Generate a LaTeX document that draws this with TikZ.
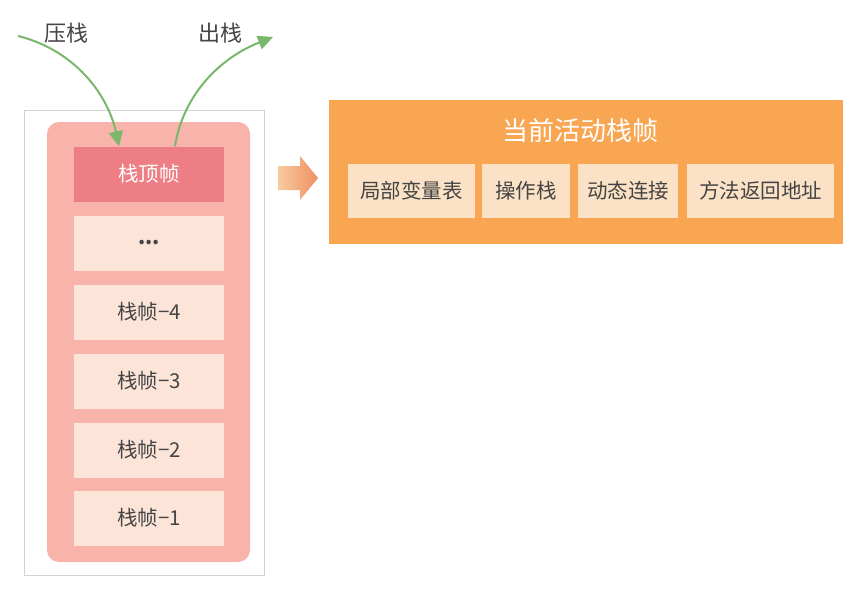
\documentclass[tikz,border=0pt]{standalone}
\usepackage{fontspec}
\setmainfont{Noto Sans CJK SC}
\usetikzlibrary{arrows.meta}
\definecolor{pinkout}{HTML}{F8B3AA}
\definecolor{pinktop}{HTML}{EE7E85}
\definecolor{framebg}{HTML}{FCE4D8}
\definecolor{orangebg}{HTML}{F9A652}
\definecolor{orangebox}{HTML}{FBE2C6}
\definecolor{txt}{HTML}{444444}
\definecolor{arrgreen}{HTML}{79B86A}
\definecolor{arrL}{HTML}{F8CBA0}
\definecolor{arrR}{HTML}{EE8F62}
\begin{document}
\begin{tikzpicture}[x=1pt,y=-1pt,
  framebox/.style={fill=framebg,draw=none,minimum width=150pt,minimum height=55pt,inner sep=0pt,text=txt,font=\fontsize{20.5}{22}\selectfont},
  partbox/.style={fill=orangebox,draw=none,minimum height=54pt,inner sep=0pt,text=txt,font=\fontsize{20.5}{22}\selectfont},
  greenarr/.style={draw=arrgreen,line width=2pt,-{Triangle[length=15pt,width=14pt]}},
  lbl/.style={text=txt,font=\fontsize{22}{24}\selectfont}]
\useasboundingbox (0,0) rectangle (857,597);
\fill[white] (0,0) rectangle (857,597);
% outer gray frame
\draw[gray!35,line width=0.8pt] (24,110) rectangle (264,575);
\fill[pinkout,rounded corners=12pt] (47,122) rectangle (250,562);
% frames
\node[framebox,fill=pinktop,text=white] (top) at (149,174) {栈顶帧};
\node[framebox] (dots) at (149,243) {\textbf{...}};
\node[framebox] (f4) at (149,312) {栈帧−4};
\node[framebox] (f3) at (149,381) {栈帧−3};
\node[framebox] (f2) at (149,450) {栈帧−2};
\node[framebox] (f1) at (149,518) {栈帧−1};
% push/pop arrows
\coordinate (pushstart) at (18,36);
\coordinate (popend) at (273,37);
\node[lbl] (pushlbl) at (66,33) {压栈};
\node[lbl] (poplbl) at (220,33) {出栈};
\draw[greenarr] (pushstart) .. controls (75,50) and (108,95) .. ([xshift=-30pt]top.north);
\draw[greenarr] ([xshift=26pt]top.north) .. controls (182,100) and (215,60) .. (popend);
% orange block
\fill[orangebg] (329,100) rectangle (843,244);
\node[text=white,font=\fontsize{26}{28}\selectfont] (title) at (580,131) {当前活动栈帧};
\node[partbox,minimum width=127pt] (p1) at (411.5,191) {局部变量表};
\node[partbox,minimum width=88pt] (p2) at (526,191) {操作栈};
\node[partbox,minimum width=100pt] (p3) at (628,191) {动态连接};
\node[partbox,minimum width=147pt] (p4) at (760.5,191) {方法返回地址};
% big arrow
\shade[left color=arrL,right color=arrR]
  (278,166) -- (300,166) -- (300,156) -- (318,178) -- (300,200) -- (300,190) -- (278,190) -- cycle;
\end{tikzpicture}
\end{document}
